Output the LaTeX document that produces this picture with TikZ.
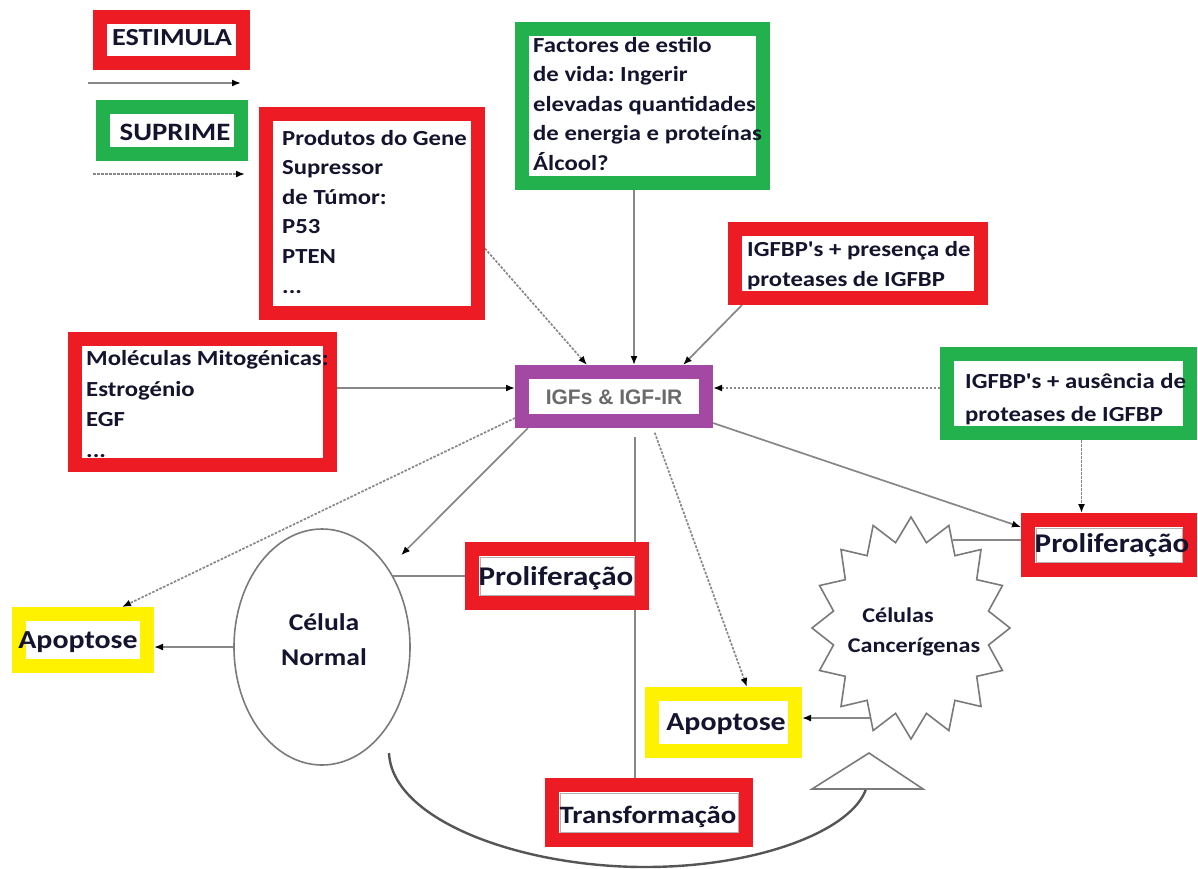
\documentclass[tikz,border=0pt]{standalone}
\usepackage{fontspec}
\usetikzlibrary{arrows.meta,calc,shapes.geometric}
\newfontfamily\boxfont[FakeStretch=1.15]{Carlito}
\newfontfamily\igffont{Liberation Sans}
\definecolor{fred}{HTML}{ED1C24}
\definecolor{fgreen}{HTML}{22B14C}
\definecolor{fyellow}{HTML}{FFF200}
\definecolor{fpurple}{HTML}{A349A4}
\definecolor{ink}{HTML}{14142E}
\definecolor{lgray}{HTML}{878787}
\definecolor{cgray}{HTML}{7A7A7A}
\definecolor{dgray}{HTML}{555555}
\definecolor{igfgray}{HTML}{6A6A6A}
\newcommand\txtsize[2]{\fontsize{#1}{#2}\selectfont\boxfont\bfseries}
\frenchspacing
\pgfdeclarelayer{bg}
\pgfsetlayers{bg,main}
\begin{document}
\begin{tikzpicture}[x=1pt,y=-1pt,
  frame/.style={draw=#1, line width=14pt, fill=white, inner sep=0pt},
  lbl/.style 2 args={inner sep=0pt, text=ink, align=left, font={\txtsize{#1}{#2}}},
  arr/.style={draw=lgray, line width=1.7pt, -{Latex[length=9pt,width=7pt,color=black]}},
  darr/.style={arr, dash pattern=on 2.5pt off 1.5pt},
  plain/.style={draw=lgray, line width=1.7pt},
  cell/.style={draw=cgray, line width=1.6pt, fill=white},
  innerline/.style={draw=gray!60, line width=0.8pt}]
\useasboundingbox (0,0) rectangle (1198,868);

% boxes (outer edge = node anchors)
\node[frame=fred,    minimum width=143pt, minimum height=46pt]  (estimula)  at (171.5,40) {};
\node[frame=fgreen,  minimum width=138pt, minimum height=47pt]  (suprime)   at (172,130.5) {};
\node[frame=fred,    minimum width=212pt, minimum height=199pt] (produtos)  at (372,213.5) {};
\node[frame=fgreen,  minimum width=241pt, minimum height=154pt] (factores)  at (642.5,106) {};
\node[frame=fred,    minimum width=246pt, minimum height=69pt]  (presenca)  at (858,263.5) {};
\node[frame=fred,    minimum width=255pt, minimum height=126pt] (moleculas) at (202.5,402) {};
\node[frame=fgreen,  minimum width=243pt, minimum height=79pt]  (ausencia)  at (1068.5,393.5) {};
\node[frame=fpurple, minimum width=184pt, minimum height=49pt]  (igf)       at (614,396.5) {};
\node[frame=fred,    minimum width=170pt, minimum height=54pt]  (prolif1)   at (557,576) {};
\node[frame=fred,    minimum width=162pt, minimum height=50pt]  (prolif2)   at (1109,545) {};
\node[frame=fyellow, minimum width=128pt, minimum height=52pt]  (apop1)     at (83,640) {};
\node[frame=fyellow, minimum width=143pt, minimum height=57pt]  (apop2)     at (723.5,722.5) {};
\node[frame=fred,    minimum width=194pt, minimum height=55pt]  (transf)    at (649,812.5) {};

% thin frames inside some boxes
\foreach \b in {prolif1,prolif2,transf}
  \draw[innerline] ([shift={(15pt,-15pt)}]\b.north west) rectangle ([shift={(-15pt,15pt)}]\b.south east);

% normal cell
\node[cell, ellipse, minimum width=176pt, minimum height=236pt, inner sep=0pt] (celula) at (322,647) {};

% cancer cell (16-point star)
\draw[cell] plot[samples=33, domain=0:32, variable=\k]
  ({911+ifthenelse(mod(\k,2)==0,99,79)*cos(90+11.25*\k)},
   {628-ifthenelse(mod(\k,2)==0,111,87)*sin(90+11.25*\k)}) -- cycle;
\coordinate (starA) at (870,718);
\coordinate (starB) at (953,540);

% transformation loop with open triangular head
\coordinate (loopA) at (389,753);
\coordinate (loopB) at (866,789);
\draw[draw=dgray, line width=2.4pt] (loopA) .. controls (392,820) and (520,867) .. (645,867)
  .. controls (760,867) and (852,830) .. (loopB);
\draw[cell, line join=miter] (812,789) -- (869,753) -- (923,789) -- cycle;

% legend arrow ends
\coordinate (leg1a) at (88,83);
\coordinate (leg1b) at (241,83);
\coordinate (leg2a) at (93,174);
\coordinate (leg2b) at (245,174);

% helper points on box edges
\coordinate (fS) at ([xshift=-8.5pt]factores.south);
\coordinate (mE) at ([yshift=14pt]moleculas.east);
\coordinate (aW) at ([yshift=5.5pt]ausencia.west);
\coordinate (aS) at ([xshift=13pt]ausencia.south);
\coordinate (tN) at ([xshift=-14pt]transf.north);

\begin{pgfonlayer}{bg}
\fill[white] (0,0) rectangle (1198,868);
\draw[arr] (leg1a) -- (leg1b);
\draw[darr] (leg2a) -- (leg2b);
\draw[darr] ([yshift=-35pt]produtos.east) -- ([xshift=72pt]igf.north west);
\draw[arr] (fS) -- (fS |- igf.north);
\draw[arr] ([xshift=14pt]presenca.south west) -- ([xshift=168pt]igf.north west);
\draw[arr] (mE) -- (mE -| igf.west);
\draw[darr] (aW) -- (aW -| igf.east);
\draw[darr] (aS) -- (aS |- prolif2.north);
\draw[arr] ([yshift=5pt]igf.south east) -- ([yshift=18pt]prolif2.west);
\draw[plain] (starB) -- (starB -| prolif2.west);
\draw[darr] ([yshift=10pt]igf.south west) -- ([xshift=39pt]apop1.north);
\draw[arr, shorten >=18pt] ([xshift=13pt]igf.south west) -- (celula.50);
\draw[plain] (prolif1.west) -- (prolif1.west -| celula.45);
\draw[plain, shorten <=9pt] (tN |- igf.south) -- (tN);
\draw[darr, shorten <=5pt] ([xshift=138pt]igf.south west) -- ([xshift=23.5pt]apop2.north);
\draw[arr] (starA) -- (starA -| apop2.east);
\draw[arr] (celula.west) -- (celula.west -| apop1.east);
\end{pgfonlayer}

% texts (base anchor of a multi-line label = baseline of its last line)
\node[lbl={24.5}{30}, anchor=base] (estimula-t) at (172,45) {ESTIMULA};
\node[lbl={25}{30}, anchor=base] (suprime-t) at (175,140) {SUPRIME};
\node[lbl={21.5}{29.6}, anchor=base west] (produtos-t) at (282,293)
  {Produtos do Gene\\Supressor\\de Túmor:\\P53\\PTEN\\...};
\node[lbl={21.5}{29.5}, anchor=base west] (factores-t) at (533,170)
  {Factores de estilo\\de vida: Ingerir\\elevadas quantidades\\de energia e proteínas\\Álcool?};
\node[lbl={21.5}{30}, anchor=base west] (presenca-t) at (747,286)
  {IGFBP's + presença de\\proteases de IGFBP};
\node[lbl={21.5}{30.5}, anchor=base west] (moleculas-t) at (86,457)
  {Moléculas Mitogénicas:\\Estrogénio\\EGF\\...};
\node[lbl={21.5}{33}, anchor=base west] (ausencia-t) at (965,421)
  {IGFBP's + ausência de\\proteases de IGFBP};
\node[inner sep=0pt, text=igfgray, font=\fontsize{21}{25}\selectfont\igffont\bfseries] (igf-t) at (614,397) {IGFs \& IGF-IR};
\node[lbl={27}{30}, anchor=base] (prolif1-t) at (556,585) {Proliferação};
\node[lbl={27}{30}, anchor=base] (prolif2-t) at (1112,552) {Proliferação};
\node[lbl={26}{30}, anchor=base] (apop1-t) at (78,648) {Apoptose};
\node[lbl={26}{30}, anchor=base] (apop2-t) at (726,730) {Apoptose};
\node[lbl={25}{30}, anchor=base] (transf-t) at (648,823) {Transformação};
\node[lbl={24}{35}, align=center, anchor=base] (celula-t) at (324,665) {Célula\\Normal};
\node[lbl={21}{30}, anchor=base] (cancer1-t) at (898,622) {Células};
\node[lbl={21}{30}, anchor=base] (cancer2-t) at (914,652) {Cancerígenas};
\end{tikzpicture}
\end{document}
